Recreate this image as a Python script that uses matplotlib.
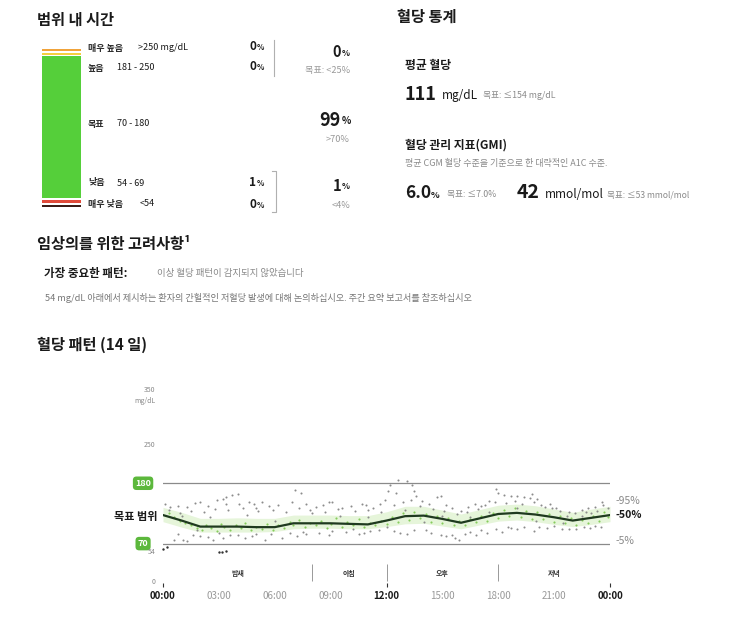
import numpy as np
import matplotlib
matplotlib.use('Agg')
import matplotlib.pyplot as plt
from matplotlib.lines import Line2D

plt.rcParams['font.family'] = ['Noto Sans CJK KR', 'DejaVu Sans']

W, H = 743, 634

# --- time in range (bottom -> top) ---
tir_names = ['매우 낮음', '낮음', '목표', '높음', '매우 높음']
tir_ranges = ['<54', '54 - 69', '70 - 180', '181 - 250', '>250 mg/dL']
tir_pct = [0, 1, 99, 0, 0]
tir_colors = ['#3a1d18', '#e04a3a', '#55cf3a', '#f4d03f', '#f0a33a']
tir_goals = ['<4%', '>70%', '목표: <25%']

# --- glucose stats ---
mean_glucose = 111
mean_goal = '목표: ≤154 mg/dL'
gmi_pct = 6.0
gmi_goal = '목표: ≤7.0%'
gmi_mmol = 42
gmi_mmol_goal = '목표: ≤53 mmol/mol'

# --- AGP (14 days) ---
hours = [0, 1, 2, 3, 4, 5, 6, 7, 8, 9, 10, 11, 12, 13, 14, 15, 16, 17, 18, 19, 20, 21, 22, 23, 24]
p50 = [122, 112, 101, 101, 101, 100, 100, 107, 107, 107, 106, 105, 112, 120, 121, 115, 108, 116, 124, 126, 123, 118, 112, 117, 122]
p25 = [110, 100, 91, 91, 91, 91, 92, 97, 98, 98, 97, 97, 101, 106, 107, 102, 97, 104, 111, 113, 110, 105, 101, 105, 110]
p75 = [136, 127, 116, 116, 117, 116, 116, 122, 122, 122, 121, 121, 128, 138, 138, 131, 124, 132, 140, 142, 139, 133, 127, 133, 138]

gray_dots = [
    (0.1, 143), (0.4, 137), (0.8, 138), (1.3, 137), (1.7, 144), (2.0, 146), (2.4, 139), (2.9, 149),
    (3.2, 152), (3.4, 155), (3.7, 158), (4.0, 160), (3.4, 143), (4.1, 143), (4.6, 146), (4.9, 143),
    (5.3, 146), (5.0, 134), (5.7, 138), (6.2, 141), (6.9, 146), (7.1, 168), (7.4, 162), (7.7, 143),
    (8.2, 137), (8.6, 140), (8.9, 146), (9.1, 146), (9.6, 135), (10.1, 138), (10.7, 143), (10.9, 140),
    (11.3, 134), (11.65, 143), (11.9, 150), (12.1, 165), (12.2, 177), (12.5, 162), (12.6, 186),
    (13.1, 184), (13.35, 176), (13.5, 166), (13.6, 156), (13.9, 147), (14.3, 142), (14.7, 155),
    (14.9, 157), (15.2, 141), (15.5, 135), (16.0, 130), (16.4, 137), (16.75, 143), (17.1, 138),
    (17.5, 147), (17.9, 170), (18.0, 163), (18.3, 158), (18.7, 157), (19.0, 156), (19.4, 155),
    (19.7, 153), (20.1, 151), (19.8, 160), (20.5, 137), (20.9, 134), (21.3, 130), (21.8, 128),
    (22.5, 131), (22.8, 134), (23.2, 137), (23.55, 145), (23.6, 141),
    (0.6, 77), (1.1, 77), (1.3, 74), (2.0, 84), (2.7, 77), (3.6, 85), (4.4, 80), (5.5, 77),
    (6.4, 80), (7.2, 84), (8.4, 90), (9.1, 93), (10.2, 96), (11.1, 93), (12.4, 93), (12.7, 90),
    (13.1, 87), (14.4, 90), (14.9, 86), (15.2, 83), (15.5, 86), (15.7, 80), (15.9, 76), (16.2, 88),
    (16.8, 86), (17.4, 90), (18.2, 91), (19.0, 96), (19.9, 93), (20.6, 98), (21.4, 97), (22.2, 96),
    (22.9, 98), (23.5, 100),
    (1.0, 120), (2.5, 118), (4.5, 122), (6.0, 112), (8.0, 125), (9.5, 120), (11.0, 118), (13.0, 132),
    (14.0, 110), (15.0, 120), (16.5, 118), (17.5, 128), (19.0, 135), (20.0, 112), (21.5, 108),
    (22.5, 120), (23.0, 125), (10.5, 88), (5.0, 88), (3.0, 90), (18.5, 100), (12.0, 100), (7.5, 92),
    (1.8, 95),
    (0.3, 131), (0.9, 126), (1.5, 130), (2.2, 128), (2.8, 133), (3.5, 131), (4.3, 134), (5.1, 129),
    (5.9, 132), (6.6, 127), (7.3, 135), (7.9, 131), (8.7, 128), (9.4, 133), (10.3, 129), (11.0, 131),
    (11.7, 127), (12.4, 140), (12.9, 145), (13.3, 150), (13.8, 139), (14.5, 133), (15.1, 129),
    (15.8, 124), (16.3, 127), (16.9, 133), (17.3, 141), (17.8, 146), (18.4, 144), (18.9, 148),
    (19.3, 142), (19.9, 145), (20.3, 140), (20.8, 143), (21.1, 135), (21.7, 121), (22.1, 125),
    (22.7, 127), (23.3, 130), (23.9, 134),
    (0.8, 88), (1.6, 85), (2.4, 82), (3.2, 80), (4.0, 86), (4.8, 84), (5.8, 87), (6.8, 89),
    (7.7, 87), (8.9, 86), (9.8, 91), (10.8, 90), (11.6, 95), (13.5, 94), (14.1, 95), (16.5, 92),
    (17.1, 94), (17.9, 97), (18.7, 99), (19.4, 101), (20.2, 100), (21.0, 102), (21.8, 97),
    (22.6, 100), (23.2, 102),
]
low_dots = [(0.0, 60), (0.2, 64), (3.0, 54), (3.15, 55), (3.4, 57)]
green_dots = [
    (0.3, 125), (0.6, 118), (0.9, 112), (1.2, 108), (1.5, 104), (1.8, 99), (2.1, 95), (2.3, 104),
    (2.6, 98), (2.9, 93), (3.1, 106), (3.3, 100), (3.6, 95), (3.9, 104), (4.2, 98), (4.4, 108),
    (4.7, 94), (5.0, 101), (5.3, 97), (5.6, 105), (5.9, 95), (6.2, 103), (6.5, 98), (6.8, 110),
    (7.0, 104), (7.3, 113), (7.6, 100), (7.9, 108), (8.2, 103), (8.5, 112), (8.8, 98), (9.0, 106),
    (9.3, 116), (9.6, 101), (9.9, 109), (10.2, 104), (10.5, 114), (10.8, 100), (11.1, 108),
    (11.4, 103), (11.7, 112), (12.0, 106), (12.3, 118), (12.6, 110), (12.9, 125), (13.2, 113),
    (13.5, 128), (13.8, 116), (14.1, 124), (14.4, 110), (14.7, 120), (15.0, 108), (15.3, 116),
    (15.6, 104), (15.9, 112), (16.2, 103), (16.5, 114), (16.8, 109), (17.1, 121), (17.4, 112),
    (17.7, 126), (18.0, 116), (18.3, 131), (18.6, 120), (18.9, 134), (19.2, 118), (19.5, 129),
    (19.8, 115), (20.1, 127), (20.4, 114), (20.7, 124), (21.0, 110), (21.3, 121), (21.6, 107),
    (21.9, 116), (22.2, 104), (22.5, 113), (22.8, 108), (23.1, 121), (23.4, 112), (23.7, 127),
    (23.9, 118),
]
target_lo, target_hi = 70, 180
y_ticks = [0, 54, 250, 350]
x_ticks = [0, 3, 6, 9, 12, 15, 18, 21, 24]
x_labels = ['00:00', '03:00', '06:00', '09:00', '12:00', '15:00', '18:00', '21:00', '00:00']
periods = ['밤새', '아침', '오후', '저녁']
period_edges = [0, 8, 12, 18, 24]
pct_labels = ['-95%', '-50%', '-5%']
pct_vals = [147, 123, 74]

GRAY = '#8a8a8a'
DARK = '#1a1a1a'
NOTE = '#8a8a8a'


def fx(x):
    return x / W


def fy(y):
    return 1 - y / H


fig = plt.figure(figsize=(W / 100, H / 100), dpi=100)


def txt(x, y, s, size, **kw):
    kw.setdefault('va', 'center')
    kw.setdefault('color', DARK)
    fig.text(fx(x), fy(y), s, fontsize=size, **kw)


def pct_txt(x, y, num, size, small):
    # number right aligned, small % following
    txt(x, y, num, size, ha='right', weight='bold')
    txt(x + 0.5, y + 1, '%', small, ha='left', weight='bold')


# ================= time in range =================
txt(37, 20, '범위 내 시간', 11, weight='bold')

axb = fig.add_axes([fx(42), fy(207), fx(81) - fx(42), fy(49) - fy(207)])
disp = np.array(tir_pct) + 1.6
gap = 1.0
bottom = 0
for h, c in zip(disp, tir_colors):
    axb.bar(0.5, h, width=1, bottom=bottom, color=c, edgecolor='none')
    bottom += h + gap
axb.set_xlim(0, 1)
axb.set_ylim(0, bottom - gap)
axb.axis('off')

label_y = [204, 183, 124, 68, 48]
range_x = [140, 117, 117, 117, 138]
for name, rng, ly, rx in zip(tir_names, tir_ranges, label_y, range_x):
    txt(88, ly, name, 6.5, weight='bold', color='#2a2a2a')
    txt(rx, ly, rng, 6.5)

col_y = [205, 182, None, 67, 46]
for p, cy in zip(tir_pct, col_y):
    if cy is None:
        continue
    pct_txt(256, cy, str(p), 8.5, 5.5)

# brackets
fig.add_artist(Line2D([fx(274), fx(274)], [fy(40), fy(76)], color='#b0b0b0', lw=0.8))
fig.add_artist(Line2D([fx(272), fx(276), fx(276), fx(272)], [fy(171), fy(171), fy(212), fy(212)],
                      color='#b0b0b0', lw=0.8))

high_sum = tir_pct[3] + tir_pct[4]
low_sum = tir_pct[0] + tir_pct[1]
pct_txt(341, 52, str(high_sum), 10.5, 6)
txt(350, 70, tir_goals[2], 6.6, ha='right', color='#999999')
pct_txt(341, 120, str(tir_pct[2]), 13, 7)
txt(350, 139, tir_goals[1], 6.6, ha='right', color='#999999')
pct_txt(341, 186, str(low_sum), 10.5, 6)
txt(350, 205, tir_goals[0], 6.6, ha='right', color='#999999')

# ================= glucose stats =================
txt(397, 17, '혈당 통계', 11, weight='bold')
txt(405, 65, '평균 혈당', 8.5, weight='bold')
txt(405, 95, str(mean_glucose), 13, weight='bold')
txt(442, 96, 'mg/dL', 8.5)
txt(483, 96, mean_goal, 6.3, color=NOTE)
txt(405, 145, '혈당 관리 지표(GMI)', 8.5, weight='bold')
txt(405, 163, '평균 CGM 혈당 수준을 기준으로 한 대략적인 A1C 수준.', 6.5, color=NOTE)
txt(405, 193, f'{gmi_pct:.1f}', 12.5, weight='bold')
txt(431, 195, '%', 6.5, weight='bold')
txt(447, 195, gmi_goal, 6.3, color=NOTE)
txt(517, 193, str(gmi_mmol), 14, weight='bold')
txt(545, 194, 'mmol/mol', 8.6)
txt(607, 195, gmi_mmol_goal, 6.2, color=NOTE)

# ================= clinician notes =================
txt(37, 244, '임상의를 위한 고려사항¹', 11, weight='bold')
txt(44, 273, '가장 중요한 패턴:', 8.3, weight='bold')
txt(157, 273, '이상 혈당 패턴이 감지되지 않았습니다', 6.8, color=NOTE)
txt(45, 298, '54 mg/dL 아래에서 제시하는 환자의 간헐적인 저혈당 발생에 대해 논의하십시오. '
             '주간 요약 보고서를 참조하십시오', 6.6, color='#777777', style='italic')
txt(37, 345, '혈당 패턴 (14 일)', 11, weight='bold')

# ================= AGP chart =================
ax = fig.add_axes([fx(163), fy(582), fx(610) - fx(163), fy(390) - fy(582)])
ax.set_xlim(0, 24)
ax.set_ylim(0, 350)
ax.axis('off')

ax.hlines([target_lo, target_hi], -0.25, 24, color=GRAY, lw=0.9, zorder=1)
ax.fill_between(hours, p25, p75, color='#e6f5da', lw=0, zorder=1)

gd = np.array(green_dots)
ax.scatter(gd[:, 0], gd[:, 1], s=2.4, color='#86cc5c', lw=0, zorder=2)
gr = np.array(gray_dots)
ax.scatter(gr[:, 0], gr[:, 1], s=2.2, color='#8c8c8c', lw=0, zorder=2)
ld = np.array(low_dots)
ax.scatter(ld[:, 0], ld[:, 1], s=3, color='#333333', lw=0, zorder=2, clip_on=False)

ax.plot(hours, p50, color='#1f3a1f', lw=1.6, zorder=3)

# badges for the target range
for v in [target_hi, target_lo]:
    ax.text(-1.07, v, str(v), fontsize=6.5, color='white', weight='bold', ha='center', va='center',
            bbox=dict(boxstyle='round,pad=0.25,rounding_size=0.4', fc='#5cb83c', ec='none'),
            clip_on=False)
ax.text(-0.3, 120, '목표 범위', fontsize=8, weight='bold', ha='right', va='center',
        color=DARK, clip_on=False)

for v in y_ticks:
    ax.text(-0.4, v, str(v), fontsize=5, color='#888888', ha='right', va='center', clip_on=False)
ax.text(-0.4, 330, 'mg/dL', fontsize=5, color='#888888', ha='right', va='center', clip_on=False)

# period labels and separators
for i, name in enumerate(periods):
    mid = (period_edges[i] + period_edges[i + 1]) / 2
    ax.text(mid, 16, name, fontsize=5, weight='bold', ha='center', va='center', color='#333333')
ax.vlines(period_edges[1:-1], 2, 32, color='#999999', lw=0.7)

# x labels
for t, lab in zip(x_ticks, x_labels):
    bold = t % 12 == 0
    ax.text(t, -25, lab, fontsize=7, ha='center', va='center', clip_on=False,
            weight='bold' if bold else 'normal', color=DARK if bold else '#999999')
ax.vlines([0, 12, 24], -9, -2, color='#333333', lw=0.8, clip_on=False)

# percentile labels on the right
for lab, v in zip(pct_labels, pct_vals):
    is_med = '50' in lab
    ax.text(24.3, v, lab, fontsize=7.5, ha='left', va='center', clip_on=False,
            weight='bold' if is_med else 'normal', color=DARK if is_med else '#888888')

fig.savefig('out.png', dpi=100, facecolor='white')
